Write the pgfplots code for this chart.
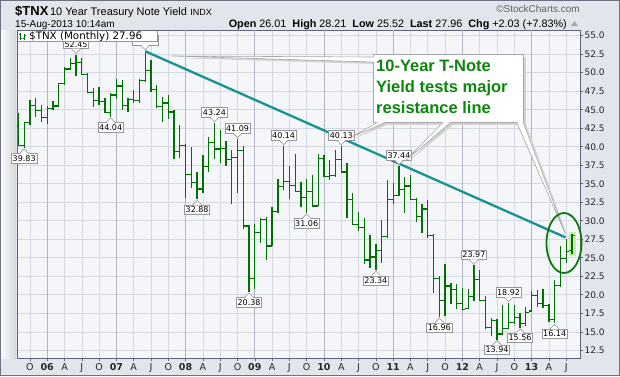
\documentclass[border=0pt]{standalone}
\usepackage{pgfplots}
\pgfplotsset{compat=1.18}
\usepackage{pgfplotstable}
\usepackage{fontspec}
\setmainfont{Liberation Sans}
\newfontfamily\dejavu{DejaVu Sans}
\definecolor{outerbg}{RGB}{226,229,236}
\definecolor{framecol}{RGB}{110,115,130}
\definecolor{plotbg}{RGB}{245,246,250}
\definecolor{gridcol}{RGB}{214,217,225}
\definecolor{yeargrid}{RGB}{178,182,194}
\definecolor{axiscol}{RGB}{95,100,115}
\definecolor{barcol}{RGB}{0,112,0}
\definecolor{trendcol}{RGB}{22,146,146}
\definecolor{hl}{RGB}{196,240,160}
\definecolor{callgreen}{RGB}{12,134,12}
\definecolor{labgray}{RGB}{150,150,158}
\pgfplotstableread{
i O H L C
-5 42.8 44.6 40.1 40.2
-4 40.2 43.4 39.83 43.3
-3 43.3 46.3 43.0 45.6
-2 45.6 46.6 44.0 44.9
-1 44.9 45.6 43.3 43.9
0 43.9 45.5 43.1 45.2
1 45.2 46.2 45.0 45.5
2 45.5 48.6 45.5 48.5
3 48.5 50.8 48.4 50.5
4 50.5 52.0 50.3 51.2
5 51.2 52.45 49.6 51.4
6 51.4 52.0 49.7 49.8
7 49.8 50.0 47.2 47.3
8 47.3 48.0 45.4 46.3
9 46.3 48.1 45.7 46.1
10 46.1 46.6 44.6 44.6
11 44.6 47.2 44.04 47.0
12 47.0 49.1 46.5 48.2
13 48.2 49.0 45.0 45.6
14 45.6 46.6 44.7 46.4
15 46.4 47.6 45.9 46.3
16 46.3 49.2 45.9 48.9
17 48.9 52.96 48.8 50.3
18 50.3 51.7 47.4 47.7
19 47.7 48.3 45.3 45.4
20 45.4 46.7 43.3 45.9
21 45.9 47.0 43.8 44.7
22 44.7 44.9 38.3 39.4
23 39.4 43.0 38.5 40.2
24 40.2 40.4 33.1 36.2
25 36.2 39.9 34.4 35.2
26 35.2 36.6 32.88 34.3
27 34.3 38.9 33.8 37.3
28 37.3 41.3 36.6 40.6
29 40.6 43.24 38.4 39.7
30 39.7 42.2 37.8 39.8
31 39.8 40.8 37.4 38.3
32 38.3 39.6 32.2 38.5
33 38.5 41.09 33.8 39.5
34 39.5 40.1 28.9 29.3
35 29.3 29.4 20.38 22.2
36 22.2 29.6 20.8 28.4
37 28.4 30.4 27.0 30.2
38 30.2 30.5 24.7 26.6
39 26.6 31.9 26.6 31.2
40 31.2 35.7 31.0 34.6
41 34.6 40.14 34.1 35.3
42 35.3 37.4 33.0 34.8
43 34.8 39.0 33.9 34.0
44 34.0 35.3 31.8 33.1
45 33.1 35.6 31.06 33.9
46 33.9 36.2 31.9 32.0
47 32.0 39.0 32.0 38.4
48 38.4 38.9 35.9 36.0
49 36.0 38.2 35.5 36.1
50 36.1 39.6 35.9 38.3
51 38.3 40.13 36.4 36.6
52 36.6 37.8 30.4 32.9
53 32.9 33.7 29.4 29.5
54 29.5 31.2 28.6 29.1
55 29.1 30.4 24.2 24.7
56 24.7 28.1 23.6 25.1
57 25.1 26.8 23.34 26.0
58 26.0 30.1 24.3 27.9
59 27.9 35.5 27.7 32.9
60 32.9 35.1 32.2 33.4
61 33.4 37.44 33.3 34.2
62 34.2 35.9 31.1 34.7
63 34.7 36.2 32.9 32.9
64 32.9 33.1 29.8 30.6
65 30.6 32.2 28.4 31.6
66 31.6 32.8 27.7 28.0
67 28.0 28.2 20.3 22.2
68 22.2 22.5 16.96 19.2
69 19.2 24.2 17.2 21.2
70 21.2 21.6 18.8 20.7
71 20.7 21.5 18.1 18.8
72 18.8 20.9 18.0 18.0
73 18.2 20.8 18.1 19.8
74 19.8 23.97 19.2 22.1
75 22.1 23.3 19.1 19.2
76 19.2 19.8 15.4 15.6
77 15.6 16.8 14.4 16.5
78 16.5 16.7 13.94 14.7
79 14.7 18.6 14.6 15.5
80 15.5 18.92 15.4 16.3
81 16.3 18.6 16.0 16.9
82 16.9 17.5 15.56 16.1
83 16.1 18.4 15.8 17.6
84 17.8 20.5 17.7 19.9
85 19.9 20.7 18.4 18.8
86 18.8 20.8 18.2 18.5
87 18.5 18.8 16.3 16.7
88 16.7 22.0 16.14 21.3
89 21.3 26.6 21.0 24.9
90 24.9 27.5 24.3 25.8
91 26.01 28.21 25.52 27.96
}\ohlc
\tikzset{vlab/.style={draw=labgray, fill=white, inner xsep=1.2pt, inner ysep=1.6pt, font=\dejavu\fontsize{8}{8}\selectfont, text=black, line width=0.6pt}}
\newcommand{\lowlab}[3]{%
  \node[vlab, anchor=north] at ([yshift=-5.5pt]axis cs:#1,#2) {#3};
  \fill[white] ([yshift=-6pt, xshift=-4pt]axis cs:#1,#2) -- ([yshift=-1pt]axis cs:#1,#2) -- ([yshift=-6pt, xshift=4pt]axis cs:#1,#2) -- cycle;
  \draw[labgray, line width=0.6pt] ([yshift=-5.5pt, xshift=-4.5pt]axis cs:#1,#2) -- ([yshift=-1pt]axis cs:#1,#2) -- ([yshift=-5.5pt, xshift=4.5pt]axis cs:#1,#2);}
\newcommand{\highlab}[3]{%
  \node[vlab, anchor=south] at ([yshift=5.5pt]axis cs:#1,#2) {#3};
  \fill[white] ([yshift=6pt, xshift=-4pt]axis cs:#1,#2) -- ([yshift=1pt]axis cs:#1,#2) -- ([yshift=6pt, xshift=4pt]axis cs:#1,#2) -- cycle;
  \draw[labgray, line width=0.6pt] ([yshift=5.5pt, xshift=-4.5pt]axis cs:#1,#2) -- ([yshift=1pt]axis cs:#1,#2) -- ([yshift=5.5pt, xshift=4.5pt]axis cs:#1,#2);}
\begin{document}
\begin{tikzpicture}
\useasboundingbox (0,0) rectangle (620pt,376pt);
\fill[outerbg] (0,0) rectangle (620pt,376pt);
\draw[framecol, line width=1pt] (0.5pt,0.5pt) rectangle (619.5pt,375.5pt);
\shade[left color=white!85!outerbg, right color=outerbg!85!gray] (1pt,18pt) rectangle (16pt,346pt);
\begin{scope}[x=1pt,y=-1pt,shift={(0,376pt)}]
  \node[anchor=base west, inner sep=0pt] at (15,15) {{\bfseries\fontsize{13}{13}\selectfont\$TNX}\,{\fontsize{11}{11}\selectfont 10 Year Treasury Note Yield}\,\,{\fontsize{9}{9}\selectfont INDX}};
  \node[anchor=base west, inner sep=0pt] at (15,27) {\fontsize{10}{10}\selectfont 15-Aug-2013 10:14am};
  \node[anchor=base east, inner sep=0pt] at (567,27) {\fontsize{10.8}{10.8}\selectfont\textbf{Open} 26.01\ \ \textbf{High} 28.21\ \ \textbf{Low} 25.52\ \ \textbf{Last} 27.96\ \ \textbf{Chg} +2.03 (+7.83\%)};
  \fill[gray!70] (571,26) -- (578,26) -- (574.5,21) -- cycle;
  \node[anchor=base east, inner sep=0pt, text=gray!75!black] at (580,13) {\fontsize{10}{10}\selectfont \textcopyright StockCharts.com};
\end{scope}
\begin{axis}[
  at={(17pt,18pt)}, anchor=south west, scale only axis,
  width=563pt, height=328pt,
  xmin=-5.24, xmax=92.4, ymin=11.46, ymax=55.77,
  clip mode=individual,
  axis background/.style={fill=plotbg},
  axis line style={axiscol, line width=0.9pt},
  xtick={-3,3,6,9,15,18,21,27,30,33,39,42,45,51,54,57,63,66,69,75,78,81,87,90},
  xticklabels={O,A,J,O,A,J,O,A,J,O,A,J,O,A,J,O,A,J,O,A,J,O,A,J},
  extra x ticks={0,12,24,36,48,60,72,84},
  extra x tick labels={06,07,08,09,10,11,12,13},
  extra x tick style={grid style={yeargrid, line width=0.8pt}, xticklabel style={font=\dejavu\bfseries\fontsize{9.5}{9.5}\selectfont}},
  ytick={12.5,15,...,55},
  grid=major, grid style={gridcol, line width=0.6pt},
  xtick pos=bottom, ytick pos=right, yticklabel pos=right,
  tick align=outside, major tick length=3pt, minor tick length=2pt,
  minor x tick num=2,
  tick style={axiscol, line width=0.6pt},
  /pgf/number format/assume math mode=true,
  yticklabel style={/pgf/number format/.cd, fixed, fixed zerofill, precision=1, /tikz/.cd, font=\dejavu\fontsize{9}{9}\selectfont, text=black!85, xshift=-2pt},
  xticklabel style={font=\dejavu\fontsize{9.5}{9.5}\selectfont, text=black!85, yshift=1pt},
]
\addplot[fill=hl, draw=none, forget plot] coordinates {(90.55,25.25) (91.65,25.25) (91.65,28.45) (90.55,28.45)};
\addplot[forget plot, draw=none, mark=none,
  error bars/.cd, y dir=plus, y explicit, error mark=none,
  error bar style={draw=barcol, line width=1.3pt}]
  table[x=i, y=L, y error expr=\thisrow{H}-\thisrow{L}] {\ohlc};
\addplot[forget plot, draw=none, mark=none,
  error bars/.cd, x dir=minus, x fixed=0.5, error mark=none,
  error bar style={draw=barcol, line width=1.2pt}]
  table[x=i, y=O] {\ohlc};
\addplot[forget plot, draw=none, mark=none,
  error bars/.cd, x dir=plus, x fixed=0.5, error mark=none,
  error bar style={draw=barcol, line width=1.2pt}]
  table[x=i, y=C] {\ohlc};
\addplot[trendcol, line width=2.3pt, no marks] coordinates {(17,52.9) (89.9,27.75)};
\highlab{17}{52.96}{\phantom{52.96}}
\highlab{5}{52.45}{52.45}
\highlab{29}{43.24}{43.24}
\highlab{33}{41.09}{41.09}
\highlab{41}{40.14}{40.14}
\highlab{51}{40.13}{40.13}
\highlab{61}{37.44}{37.44}
\highlab{74}{23.97}{23.97}
\highlab{80}{18.92}{18.92}
\lowlab{-4}{39.83}{39.83}
\lowlab{11}{44.04}{44.04}
\lowlab{26}{32.88}{32.88}
\lowlab{35}{20.38}{20.38}
\lowlab{45}{31.06}{31.06}
\lowlab{57}{23.34}{23.34}
\lowlab{68}{16.96}{16.96}
\lowlab{78}{13.94}{13.94}
\lowlab{82}{15.56}{15.56}
\lowlab{88}{16.14}{16.14}
\end{axis}
\begin{scope}[x=1pt,y=-1pt,shift={(0,376pt)}]
  % legend
  \fill[white] (17.5,31) rectangle (157,41.5);
  \draw[labgray, line width=0.6pt] (157,31) -- (157,41.5) -- (17.5,41.5);
  \draw[barcol, line width=0.9pt] (20,32.5) -- (20,40) (18.5,34.5) -- (20,34.5) (20,38) -- (21.5,38)
     (24,33.5) -- (24,39.5) (22.5,38.5) -- (24,38.5) (24,35) -- (25.5,35);
  \node[anchor=base west, inner sep=0pt] at (29,39.8) {\dejavu\fontsize{10.3}{10.3}\selectfont \$TNX (Monthly) 27.96};
  % callout shadow
  \fill[gray!35] (376,57) rectangle (526,125);
  % pointer shadows
  \fill[gray!35] (174,58) -- (375,59) -- (375,64) -- cycle;
  \fill[gray!35] (381,124) -- (389,124) -- (353.5,139) -- cycle;
  \fill[gray!35] (446,124) -- (454,124) -- (408,162) -- cycle;
  \fill[gray!35] (519,124) -- (526,124) -- (567.5,236) -- cycle;
  % box
  \fill[white] (373,54) rectangle (523,122);
  \draw[gray!70, line width=0.7pt] (373,54) rectangle (523,122);
  % pointers
  \fill[white] (172,56) -- (374,57) -- (374,62) -- cycle;
  \draw[gray!70, line width=0.6pt] (373,57) -- (172,56) -- (373,62);
  \fill[white] (378.3,121) -- (387,121) -- (351.7,136.7) -- cycle;
  \draw[gray!70, line width=0.6pt] (378.3,122) -- (351.7,136.7) -- (387,122);
  \fill[white] (443.3,121) -- (451.7,121) -- (406,160) -- cycle;
  \draw[gray!70, line width=0.6pt] (443.3,122) -- (406,160) -- (451.7,122);
  \fill[white] (516.5,121) -- (523,121) -- (565.5,234) -- cycle;
  \draw[gray!70, line width=0.6pt] (516.5,122) -- (565.5,234) -- (523,122);
  % callout text
  \node[anchor=base west, inner sep=0pt, text=callgreen] at (376,71.5) {\bfseries\fontsize{16.5}{16.5}\selectfont 10-Year T-Note};
  \node[anchor=base west, inner sep=0pt, text=callgreen] at (376,92.2) {\bfseries\fontsize{16.5}{16.5}\selectfont Yield tests major};
  \node[anchor=base west, inner sep=0pt, text=callgreen] at (376,113) {\bfseries\fontsize{16.5}{16.5}\selectfont resistance line};
  % ellipse
  \draw[callgreen!90!black, line width=1.8pt] (564,243) ellipse [x radius=17.5pt, y radius=30pt];
\end{scope}
\end{tikzpicture}
\end{document}
